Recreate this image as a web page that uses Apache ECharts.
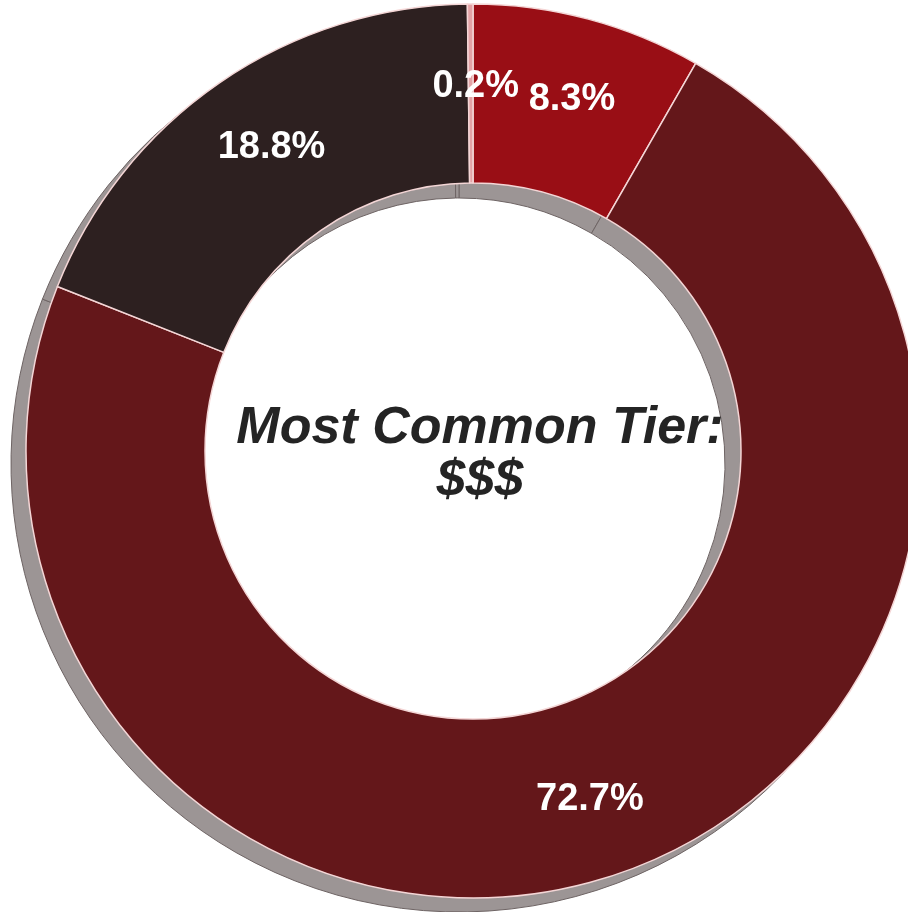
<!DOCTYPE html>
<html><head><meta charset="utf-8">
<script src="https://cdn.jsdelivr.net/npm/echarts@6/dist/echarts.min.js"></script>
<style>html,body{margin:0;padding:0;background:#fff}#c{width:908px;height:912px}</style>
</head><body><div id="c"></div>
<script>
// Data
const tiers = ['$$$$', '$$$', '$$', '$'];
const shares = [8.3, 72.7, 18.8, 0.2];
const centerLines = ['Most Common Tier:', '$$$'];

// Styling
const sliceColors = ['#990e15', '#64171a', '#2d2020', '#e3a3a6'];
const labelNudge = [[6, -3], [-2, 8], [3, -7], [5, -4]];

const chart = echarts.init(document.getElementById('c'), null, {renderer: 'canvas'});
const ringData = tiers.map((t, i) => ({name: t, value: shares[i], itemStyle: {color: sliceColors[i]}}));
const shadowData = tiers.map((t, i) => ({name: t, value: shares[i]}));

chart.setOption({
  animation: false,
  backgroundColor: '#ffffff',
  title: {
    text: centerLines.join('\n'),
    left: 475, top: 397, textAlign: 'center',
    textStyle: {fontFamily: 'Liberation Sans', fontWeight: 'bold', fontStyle: 'italic',
      fontSize: 52, lineHeight: 53, color: '#242424'}
  },
  series: [
    {
      type: 'pie', z: 1, silent: true,
      center: [459, 464], radius: [266, 448],
      startAngle: 90, clockwise: true,
      label: {show: false}, labelLine: {show: false},
      itemStyle: {color: '#9c9595', borderColor: '#6e6464', borderWidth: 1},
      emphasis: {disabled: true},
      data: shadowData
    },
    {
      type: 'pie', z: 2, silent: true,
      center: [473, 451], radius: [268, 447],
      startAngle: 90, clockwise: true,
      avoidLabelOverlap: false,
      itemStyle: {borderColor: '#f4d6d6', borderWidth: 1.5},
      label: {show: true, position: 'inside', color: '#ffffff', fontFamily: 'Liberation Sans',
        fontWeight: 'bold', fontSize: 38, formatter: p => p.value.toFixed(1) + '%'},
      labelLine: {show: false},
      labelLayout: p => ({dx: labelNudge[p.dataIndex][0], dy: labelNudge[p.dataIndex][1]}),
      emphasis: {disabled: true},
      data: ringData
    }
  ]
});
</script>
</body></html>
